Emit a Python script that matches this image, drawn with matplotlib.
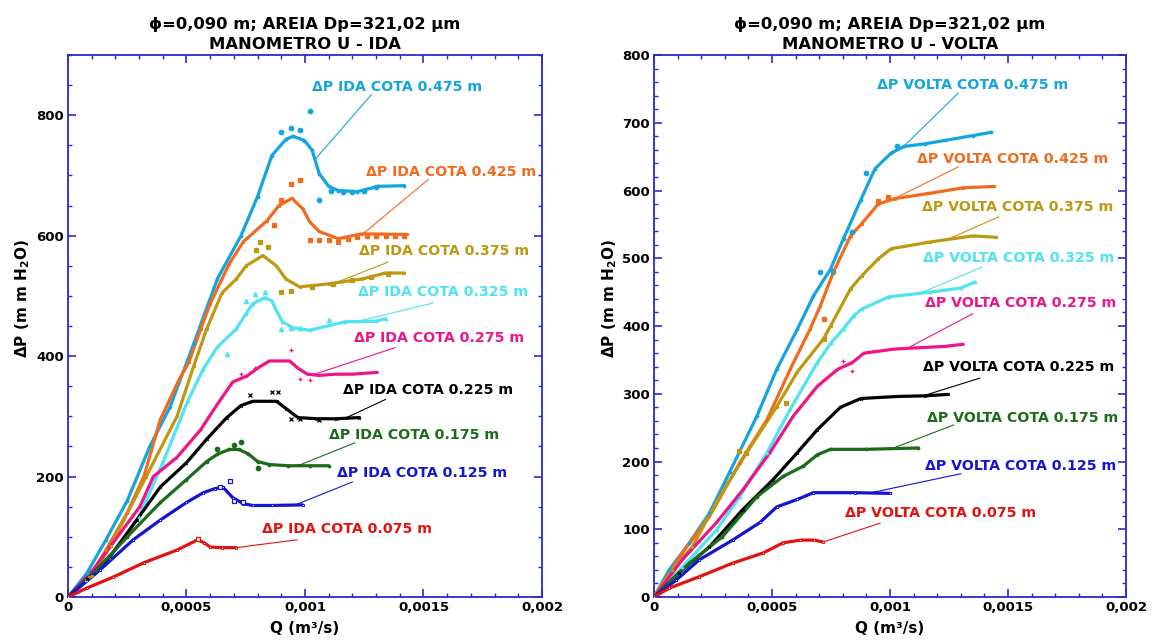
import numpy as np
import matplotlib.pyplot as plt
from matplotlib.ticker import MultipleLocator, FuncFormatter

# vazão Q em 1e-4 m3/s, queda de pressão em mmH2O
cotas = ['0.475', '0.425', '0.375', '0.325', '0.275', '0.225', '0.175', '0.125', '0.075']
cores = ['#12a5e0', '#f26b1d', '#bd9810', '#4fe3f3', '#ee158a', '#000000', '#1b6b1b', '#1414d2', '#e3120f']
marcas = ['o', 's', 's', '^', '+', 'x', 'o', 's', 's']

# ---- IDA ----
q_ida_475 = [0, 0.8, 1.6, 2.5, 3.45, 4.3, 5.3, 6.3, 7.3, 8.0, 8.6, 9.2, 9.5, 9.98, 10.3, 10.6, 11.0, 11.4, 12.2, 13.1, 14.2]
p_ida_475 = [0, 40, 95, 160, 250, 315, 420, 528, 600, 665, 733, 760, 765, 758, 742, 703, 682, 675, 673, 682, 683]
q_ida_425 = [0, 0.9, 1.6, 2.5, 3.2, 3.9, 4.7, 5.1, 5.6, 6.0, 6.8, 7.4, 8.4, 8.9, 9.45, 9.9, 10.2, 10.6, 11.4, 12.4, 14.3]
p_ida_425 = [0, 33, 78, 140, 200, 295, 362, 390, 445, 487, 553, 590, 625, 650, 662, 645, 623, 607, 595, 603, 602]
q_ida_375 = [0, 1.0, 1.8, 3.3, 4.6, 5.3, 5.85, 6.5, 7.1, 7.52, 8.22, 8.79, 9.2, 9.77, 11.0, 12.4, 13.4, 14.2]
p_ida_375 = [0, 35, 85, 200, 300, 383, 445, 505, 528, 550, 567, 550, 528, 515, 520, 528, 538, 538]
q_ida_325 = [0, 0.75, 1.77, 3.0, 4.0, 5.05, 5.7, 6.3, 7.1, 7.5, 7.8, 8.3, 8.6, 8.8, 9.05, 9.5, 10.2, 11.7, 13.0, 13.4]
p_ida_325 = [0, 28, 67, 133, 223, 325, 378, 415, 445, 470, 487, 497, 492, 475, 457, 447, 443, 457, 458, 462]
q_ida_275 = [0, 1.05, 1.9, 3.03, 3.6, 4.6, 5.6, 6.3, 6.95, 7.55, 8.0, 8.5, 9.35, 9.7, 10.1, 10.6, 11.3, 12.0, 13.05]
p_ida_275 = [0, 45, 90, 150, 200, 232, 278, 320, 357, 367, 380, 392, 392, 380, 370, 368, 370, 370, 373]
q_ida_225 = [0, 0.8, 1.77, 2.9, 3.9, 5.0, 5.85, 6.7, 7.3, 7.8, 8.8, 9.2, 9.7, 10.5, 11.3, 12.3]
p_ida_225 = [0, 30, 67, 128, 183, 223, 262, 298, 318, 325, 325, 313, 298, 296, 296, 298]
q_ida_175 = [0, 1.2, 2.5, 3.9, 5.0, 5.85, 6.3, 6.8, 7.2, 7.6, 8.0, 8.5, 9.3, 10.2, 11.0]
p_ida_175 = [0, 45, 100, 157, 195, 225, 237, 245, 245, 238, 225, 220, 218, 218, 218]
q_ida_125 = [0, 1.35, 2.75, 3.9, 5.0, 5.7, 6.2, 6.55, 6.95, 7.4, 7.8, 8.6, 9.9]
p_ida_125 = [0, 45, 95, 128, 157, 173, 180, 182, 165, 155, 152, 152, 153]
q_ida_075 = [0, 0.8, 1.9, 3.2, 4.6, 5.47, 5.75, 6.0, 6.5, 7.1]
p_ida_075 = [0, 15, 33, 57, 78, 95, 90, 83, 82, 82]

# pontos medidos que ficam fora da curva suavizada
pq_ida_475 = [9.0, 9.4, 9.8, 10.2, 10.6, 11.1, 11.6, 12.0, 12.5, 13.0]
pp_ida_475 = [772, 778, 775, 807, 660, 675, 672, 673, 675, 680]
pq_ida_425 = [8.7, 9.0, 9.4, 9.8, 10.2, 10.6, 11.0, 11.4, 11.8, 12.2, 12.6, 13.0, 13.4, 13.8, 14.2]
pp_ida_425 = [617, 660, 685, 692, 592, 592, 592, 590, 595, 598, 600, 600, 600, 600, 600]
pq_ida_375 = [7.95, 8.1, 8.45, 9.0, 9.4, 10.3, 11.2, 12.0, 12.8, 13.5]
pp_ida_375 = [577, 590, 582, 507, 508, 515, 520, 527, 532, 537]
pq_ida_325 = [6.7, 7.5, 7.9, 8.3, 9.0, 9.4, 9.8, 11.0]
pp_ida_325 = [403, 492, 503, 507, 445, 447, 447, 460]
pq_ida_275 = [7.3, 7.9, 9.4, 9.8, 10.2]
pp_ida_275 = [370, 380, 410, 362, 360]
pq_ida_225 = [7.7, 8.6, 8.85, 9.4, 9.8, 10.6]
pp_ida_225 = [335, 340, 340, 295, 295, 294]
pq_ida_175 = [6.3, 7.0, 7.3, 8.0]
pp_ida_175 = [245, 252, 258, 215]
pq_ida_125 = [6.4, 6.85, 7.0, 7.4]
pp_ida_125 = [183, 192, 160, 157]
pq_ida_075 = [5.5]
pp_ida_075 = [97]

# ---- VOLTA ----
q_vol_475 = [0, 0.64, 1.5, 2.35, 3.2, 4.36, 5.2, 6.07, 6.75, 7.48, 8.03, 8.76, 9.36, 10.04, 10.6, 11.5, 12.35, 13.5, 14.3]
p_vol_475 = [0, 40, 80, 124, 184, 267, 336, 395, 444, 484, 529, 586, 632, 655, 665, 669, 674, 681, 686]
q_vol_425 = [0, 1.2, 2.35, 3.63, 4.79, 5.77, 6.62, 7.05, 7.61, 8.33, 8.8, 9.5, 10.2, 11.7, 13.1, 14.4]
p_vol_425 = [0, 65, 119, 198, 262, 336, 396, 430, 480, 533, 551, 580, 588, 596, 604, 606]
q_vol_375 = [0, 0.77, 1.62, 2.78, 3.93, 5.2, 6.07, 7.18, 7.48, 8.33, 8.8, 9.5, 10.04, 11.7, 13.5, 14.5]
p_vol_375 = [0, 40, 74, 148, 213, 281, 332, 381, 400, 455, 474, 499, 514, 524, 533, 531]
q_vol_325 = [0, 1.2, 2.65, 3.63, 4.79, 5.77, 6.92, 7.5, 8.03, 8.46, 8.8, 9.95, 11.7, 13.0, 13.6]
p_vol_325 = [0, 44, 99, 148, 213, 277, 346, 375, 396, 415, 425, 443, 450, 456, 465]
q_vol_275 = [0, 1.2, 2.65, 3.76, 4.91, 5.9, 6.92, 7.78, 8.4, 8.9, 10.2, 12.35, 13.1]
p_vol_275 = [0, 55, 110, 158, 213, 267, 311, 336, 346, 360, 366, 370, 373]
q_vol_225 = [0, 1.07, 2.35, 3.76, 5.04, 6.07, 6.92, 7.9, 8.76, 10.3, 11.5, 12.45]
p_vol_225 = [0, 36, 74, 129, 173, 213, 247, 280, 293, 296, 297, 299]
q_vol_175 = [0, 1.5, 2.9, 4.36, 5.47, 6.32, 6.92, 7.48, 9.0, 11.2]
p_vol_175 = [0, 50, 89, 148, 178, 193, 210, 218, 218, 220]
q_vol_125 = [0, 0.94, 1.92, 3.33, 4.49, 5.2, 6.07, 6.75, 8.5, 10.0]
p_vol_125 = [0, 25, 55, 84, 110, 133, 144, 154, 154, 153]
q_vol_075 = [0, 0.64, 1.92, 3.33, 4.62, 5.47, 6.2, 6.8, 7.18]
p_vol_075 = [0, 13, 30, 50, 65, 80, 84, 84, 81]

pq_vol_475 = [7.05, 7.6, 8.4, 9.0, 10.3]
pp_vol_475 = [480, 480, 539, 626, 665]
pq_vol_425 = [7.2, 9.5, 9.9]
pp_vol_425 = [410, 584, 590]
pq_vol_375 = [3.6, 3.9, 5.6, 7.2]
pp_vol_375 = [215, 213, 287, 381]
pq_vol_275 = [8.0, 8.4, 9.3]
pp_vol_275 = [348, 333, 363]

series_ida = [
    (q_ida_475, p_ida_475, pq_ida_475, pp_ida_475),
    (q_ida_425, p_ida_425, pq_ida_425, pp_ida_425),
    (q_ida_375, p_ida_375, pq_ida_375, pp_ida_375),
    (q_ida_325, p_ida_325, pq_ida_325, pp_ida_325),
    (q_ida_275, p_ida_275, pq_ida_275, pp_ida_275),
    (q_ida_225, p_ida_225, pq_ida_225, pp_ida_225),
    (q_ida_175, p_ida_175, pq_ida_175, pp_ida_175),
    (q_ida_125, p_ida_125, pq_ida_125, pp_ida_125),
    (q_ida_075, p_ida_075, pq_ida_075, pp_ida_075),
]
series_vol = [
    (q_vol_475, p_vol_475, pq_vol_475, pp_vol_475),
    (q_vol_425, p_vol_425, pq_vol_425, pp_vol_425),
    (q_vol_375, p_vol_375, pq_vol_375, pp_vol_375),
    (q_vol_325, p_vol_325, [], []),
    (q_vol_275, p_vol_275, pq_vol_275, pp_vol_275),
    (q_vol_225, p_vol_225, [], []),
    (q_vol_175, p_vol_175, [], []),
    (q_vol_125, p_vol_125, [], []),
    (q_vol_075, p_vol_075, [], []),
]

# posição do rótulo (Q, dP), início da linha de chamada (Q, dP) e Q do ponto na curva
rot_ida = [((10.3, 847), (12.8, 834), 10.42), ((12.57, 706), (15.2, 693), 12.45),
           ((12.28, 575), (13.5, 556), 11.27), ((12.24, 507), (15.4, 488), 12.19),
           ((12.07, 430), (13.8, 414), 10.34), ((11.6, 344), (13.4, 328), 11.69),
           ((11.01, 269), (12.1, 256), 9.7), ((11.35, 206), (12.0, 191), 9.58),
           ((8.19, 113), (9.66, 95), 7.1)]
rot_vol = [((9.45, 756), (12.9, 744), 10.55), ((11.14, 646), (12.9, 635), 10.13),
           ((11.36, 576), (14.6, 561), 12.42), ((11.4, 500), (13.9, 487), 11.27),
           ((11.48, 434), (13.5, 418), 10.72), ((11.4, 339), (13.8, 323), 11.4),
           ((11.57, 264), (12.7, 254), 10.08), ((11.48, 193), (13.0, 182), 9.15),
           ((8.09, 124), (9.58, 109), 7.16)]

AZUL = '#2a2ad2'
plt.rcParams['font.family'] = 'DejaVu Sans'
plt.rcParams['font.weight'] = 'bold'

fig = plt.figure(figsize=(11.53, 6.41), dpi=100)
ax1 = fig.add_axes([0.059, 0.0686, 0.411, 0.8456])
ax2 = fig.add_axes([0.5672, 0.0686, 0.4094, 0.8456])


def desenha(ax, series, rotulos, sentido, ymax, ymaj, ymin):
    for i, (q, p, pq, pp) in enumerate(series):
        c = cores[i]
        q = np.array(q) * 1e-4
        aberto = (i >= 7)
        ax.plot(q, p, '-', color=c, lw=2.3, zorder=3, solid_capstyle='round')
        ax.plot(q, p, linestyle='none', marker=marcas[i], ms=2,
                mfc='white' if aberto else c, mec=c, mew=0.7, zorder=4)
        if len(pq):
            ax.plot(np.array(pq) * 1e-4, pp, linestyle='none', marker=marcas[i],
                    ms=3.2, mfc='white' if aberto else c, mec=c, mew=0.9, zorder=4)
        (tx, ty), (lx, ly), qc = rotulos[i]
        pc = np.interp(qc * 1e-4, q, p)
        ax.plot([lx * 1e-4, qc * 1e-4], [ly, pc], '-', color=c, lw=0.8, zorder=2)
        ax.text(tx * 1e-4, ty, f'ΔP {sentido} COTA {cotas[i]} m', color=c,
                fontsize=10.2, fontweight='bold', ha='left', va='center')

    ax.set_xlim(0, 0.002)
    ax.set_ylim(0, ymax)
    ax.xaxis.set_major_locator(MultipleLocator(0.0005))
    ax.xaxis.set_minor_locator(MultipleLocator(0.0001))
    ax.yaxis.set_major_locator(MultipleLocator(ymaj))
    ax.yaxis.set_minor_locator(MultipleLocator(ymin))
    ax.xaxis.set_major_formatter(FuncFormatter(lambda v, pos: f'{v:g}'.replace('.', ',')))
    ax.yaxis.set_major_formatter(FuncFormatter(lambda v, pos: '' if v > ymax - 1 and ymax == 900 else f'{v:g}'))
    ax.tick_params(which='both', direction='in', top=True, right=True,
                   color=AZUL, labelsize=9.5, pad=3)
    ax.tick_params(which='major', length=6, width=1.2)
    ax.tick_params(which='minor', length=3, width=1.0)
    for lab in ax.get_xticklabels() + ax.get_yticklabels():
        lab.set_fontweight('bold')
    for s in ax.spines.values():
        s.set_color(AZUL)
        s.set_linewidth(1.3)
    ax.set_xlabel('Q (m³/s)', fontsize=11, fontweight='bold', labelpad=5)
    ax.set_ylabel('ΔP (m m H$_\\mathbf{2}$O)', fontsize=11, fontweight='bold')
    ax.yaxis.set_label_coords(-0.075, 0.55)
    ax.set_title('ϕ=0,090 m; AREIA Dp=321,02 μm\nMANOMETRO U - ' + sentido,
                 fontsize=11.8, fontweight='bold', linespacing=1.45, pad=4)


desenha(ax1, series_ida, rot_ida, 'IDA', 900, 200, 50)
desenha(ax2, series_vol, rot_vol, 'VOLTA', 800, 100, 20)

fig.savefig('out.png', dpi=100)
